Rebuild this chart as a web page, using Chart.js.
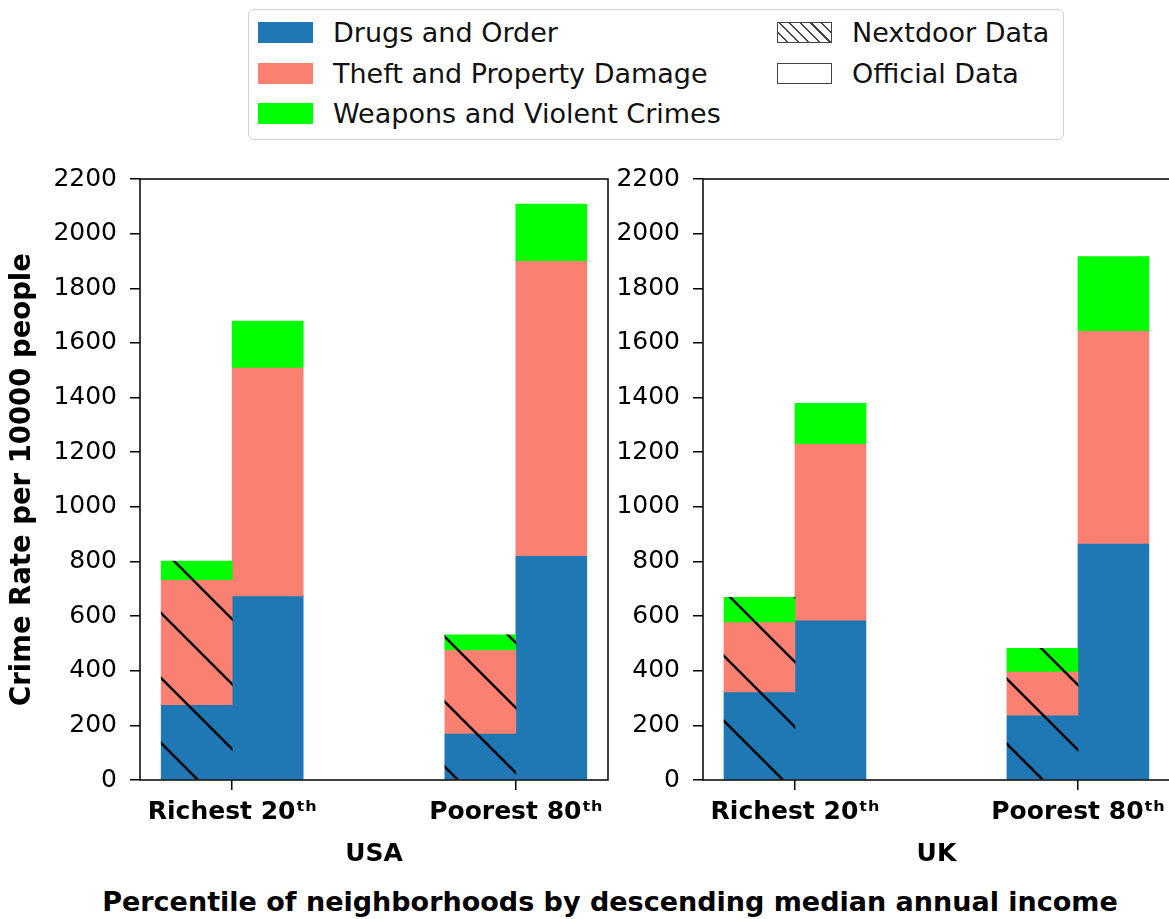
<!DOCTYPE html>
<html>
<head>
<meta charset="utf-8">
<script src="https://cdn.jsdelivr.net/npm/chart.js@4.4.0/dist/chart.umd.min.js"></script>
<style>
  html, body { margin: 0; padding: 0; background: #fff; overflow: hidden; width: 1169px; height: 919px; font-family: 'DejaVu Sans', sans-serif; }
  #legendBox { position: absolute; left: 248px; top: 9px; width: 816px; height: 131px; border: 1.5px solid #d0d0d0; border-radius: 6px; box-sizing: border-box; }
  .item { position: absolute; height: 32px; display: flex; align-items: center; font-size: 27px; color: #111; white-space: nowrap; }
  .sw { width: 55px; height: 21px; margin-right: 20px; box-sizing: border-box; }
  #usaWrap { position: absolute; left: 0; top: 150px; width: 620px; height: 720px; }
  #ukWrap { position: absolute; left: 610px; top: 150px; width: 562px; height: 720px; }
  #xTitle { position: absolute; left: 0; width: 1220px; top: 886px; text-align: center; font-weight: bold; font-size: 27px; color: #000; }
</style>
</head>
<body>
<div id="legendBox"></div>
<div id="legend"></div>
<div id="usaWrap"><canvas id="usaChart" width="620" height="720"></canvas></div>
<div id="ukWrap"><canvas id="ukChart" width="562" height="720"></canvas></div>
<div id="xTitle">Percentile of neighborhoods by descending median annual income</div>
<script>
const categories = ['Richest 20ᵗʰ', 'Poorest 80ᵗʰ'];
const crimeTypes = ['Drugs and Order', 'Theft and Property Damage', 'Weapons and Violent Crimes'];
const sources = ['Nextdoor Data', 'Official Data'];

// USA, values per category (Richest, Poorest)
const usaNextdoorDrugs = [273, 168];
const usaNextdoorTheft = [458, 306];
const usaNextdoorWeapons = [70, 57];
const usaOfficialDrugs = [671, 819];
const usaOfficialTheft = [837, 1080];
const usaOfficialWeapons = [172, 209];

// UK
const ukNextdoorDrugs = [320, 235];
const ukNextdoorTheft = [256, 160];
const ukNextdoorWeapons = [93, 87];
const ukOfficialDrugs = [583, 864];
const ukOfficialTheft = [646, 778];
const ukOfficialWeapons = [150, 274];

const yMax = 2200;
const yStep = 200;

const colors = ['#1f77b4', '#fa8072', '#00ff00'];
const FONT = "'DejaVu Sans', sans-serif";

// hatch drawn in page coordinates so lines run on across stacked segments
function makeHatch(ctx, color, canvasLeft, canvasTop) {
    const s = 65;
    const phase = (((62 - canvasTop + canvasLeft) % s) + s) % s;
    const c = document.createElement('canvas');
    c.width = s; c.height = s;
    const g = c.getContext('2d');
    g.fillStyle = color;
    g.fillRect(0, 0, s, s);
    g.strokeStyle = '#000';
    g.lineWidth = 2.5;
    for (let k = -2; k <= 1; k++) {
        g.beginPath();
        g.moveTo(-5, phase + k * s - 5);
        g.lineTo(s + 5, phase + k * s + s + 5);
        g.stroke();
    }
    return ctx.createPattern(c, 'repeat');
}

const frame = {
    id: 'frame',
    afterDatasetsDraw(chart) {
        const { ctx, chartArea: a } = chart;
        ctx.save();
        ctx.strokeStyle = '#000';
        ctx.lineWidth = 1.5;
        ctx.strokeRect(a.left, a.top, a.right - a.left, a.bottom - a.top);
        ctx.restore();
    }
};

function buildPanel(canvasId, country, pos, nextdoor, official, opts) {
    const canvas = document.getElementById(canvasId);
    const ctx = canvas.getContext('2d');
    const datasets = [];
    crimeTypes.forEach((name, i) => {
        datasets.push({
            label: name + ' (' + sources[0] + ')',
            data: nextdoor[i].map((v, j) => ({ x: j, y: v })),
            backgroundColor: makeHatch(ctx, colors[i], pos.left, pos.top),
            stack: 'nextdoor',
            borderWidth: 0,
            barThickness: 71
        });
    });
    crimeTypes.forEach((name, i) => {
        datasets.push({
            label: name + ' (' + sources[1] + ')',
            data: official[i].map((v, j) => ({ x: j, y: v })),
            backgroundColor: colors[i],
            stack: 'official',
            borderWidth: 0,
            barThickness: 71
        });
    });

    const tickGrid = { drawOnChartArea: false, tickLength: 10, color: '#000', lineWidth: 1.5, offset: false };

    return new Chart(canvas, {
        type: 'bar',
        data: { datasets },
        options: {
            responsive: false,
            animation: false,
            layout: { padding: { top: 29, right: opts.padRight, left: 0, bottom: 0 } },
            plugins: { legend: { display: false }, tooltip: { enabled: false } },
            scales: {
                x: {
                    type: 'linear', stacked: true, min: -0.325, max: 1.325, offset: false,
                    afterBuildTicks: axis => { axis.ticks = categories.map((_, i) => ({ value: i })); },
                    afterFit: axis => { axis.height = 90; },
                    ticks: {
                        callback: v => categories[v], autoSkip: false, maxRotation: 0, padding: 7,
                        color: '#000', font: { family: FONT, size: 25, weight: 'bold' }
                    },
                    grid: tickGrid,
                    border: { display: false },
                    title: { display: true, text: country, color: '#000', padding: { top: 0, bottom: 1 }, font: { family: FONT, size: 25, weight: 'bold' } }
                },
                y: {
                    stacked: true, min: 0, max: yMax,
                    afterFit: axis => { axis.width = opts.axisWidth; },
                    ticks: { stepSize: yStep, padding: 13, color: '#000', callback: v => String(v), font: { family: FONT, size: 25 } },
                    grid: tickGrid,
                    border: { display: false },
                    title: {
                        display: opts.yTitle, text: 'Crime Rate per 10000 people', color: '#000',
                        padding: { top: 6, bottom: 0 }, font: { family: FONT, size: 27.5, weight: 'bold' }
                    }
                }
            }
        },
        plugins: [frame]
    });
}

buildPanel('usaChart', 'USA', { left: 0, top: 150 },
    [usaNextdoorDrugs, usaNextdoorTheft, usaNextdoorWeapons],
    [usaOfficialDrugs, usaOfficialTheft, usaOfficialWeapons],
    { axisWidth: 140, padRight: 12, yTitle: true });

buildPanel('ukChart', 'UK', { left: 610, top: 150 },
    [ukNextdoorDrugs, ukNextdoorTheft, ukNextdoorWeapons],
    [ukOfficialDrugs, ukOfficialTheft, ukOfficialWeapons],
    { axisWidth: 93, padRight: 2, yTitle: false });

// legend
const legend = document.getElementById('legend');
const rowsY = [32.5, 73, 113.5];
crimeTypes.forEach((name, i) => {
    legend.insertAdjacentHTML('beforeend',
        `<div class="item" style="left:258px;top:${rowsY[i] - 16}px"><div class="sw" style="background:${colors[i]}"></div>${name}</div>`);
});
const hatchSwatch = 'background:repeating-linear-gradient(45deg,#fff 0px,#fff 6px,#444 6px,#444 7.5px);border:1.5px solid #444';
const plainSwatch = 'background:#fff;border:1.5px solid #444';
[hatchSwatch, plainSwatch].forEach((style, i) => {
    legend.insertAdjacentHTML('beforeend',
        `<div class="item" style="left:777px;top:${rowsY[i] - 16}px"><div class="sw" style="${style}"></div>${sources[i]}</div>`);
});
</script>
</body>
</html>
